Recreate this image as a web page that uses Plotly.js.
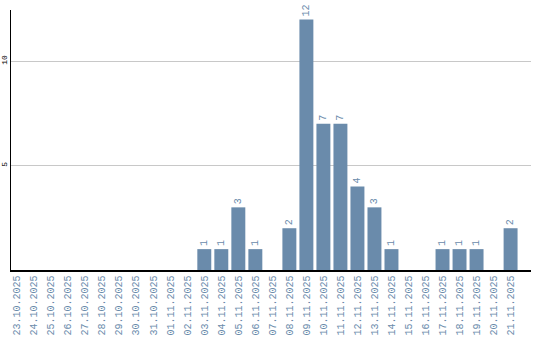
<!DOCTYPE html>
<html><head><meta charset="utf-8">
<script src="https://cdn.plot.ly/plotly-3.0.1.min.js"></script>
<style>html,body{margin:0;padding:0;background:#fff}#c{width:540px;height:340px}</style>
</head><body><div id="c"></div>
<script>
const dates = ["23.10.2025","24.10.2025","25.10.2025","26.10.2025","27.10.2025","28.10.2025","29.10.2025","30.10.2025","31.10.2025","01.11.2025","02.11.2025","03.11.2025","04.11.2025","05.11.2025","06.11.2025","07.11.2025","08.11.2025","09.11.2025","10.11.2025","11.11.2025","12.11.2025","13.11.2025","14.11.2025","15.11.2025","16.11.2025","17.11.2025","18.11.2025","19.11.2025","20.11.2025","21.11.2025"];
const counts = [0,0,0,0,0,0,0,0,0,0,0,1,1,3,1,0,2,12,7,7,4,3,1,0,0,1,1,1,0,2];
const yTicks = [5,10];
const barColor = "#6a8bab";
const labels = counts.map(v => v > 0 ? String(v) : "");
Plotly.newPlot("c", [{
  type: "bar", x: dates, y: counts, text: labels,
  textposition: "outside", textangle: -90, constraintext: "none", cliponaxis: false,
  textfont: {family: "Liberation Mono", size: 10, color: barColor},
  marker: {color: barColor}, hoverinfo: "none"
}], {
  width: 540, height: 340,
  margin: {l: 11, r: 9, t: 10, b: 70},
  paper_bgcolor: "#fff", plot_bgcolor: "#fff",
  bargap: 0.18, showlegend: false,
  xaxis: {type: "category", range: [-0.36, 30.2], tickangle: -90,
    tickfont: {family: "Liberation Mono", size: 10, color: barColor},
    showline: true, linecolor: "#000", linewidth: 1.5, showgrid: false, ticks: "", zeroline: false},
  yaxis: {range: [0, 12.45], tickvals: yTicks, ticktext: yTicks.map(String), tickangle: -90,
    tickfont: {family: "Liberation Mono", size: 8, color: "#000"},
    showline: true, linecolor: "#000", linewidth: 1, showgrid: true, gridcolor: "#c8c8c8",
    ticks: "", zeroline: false}
}, {staticPlot: true});
</script></body></html>
